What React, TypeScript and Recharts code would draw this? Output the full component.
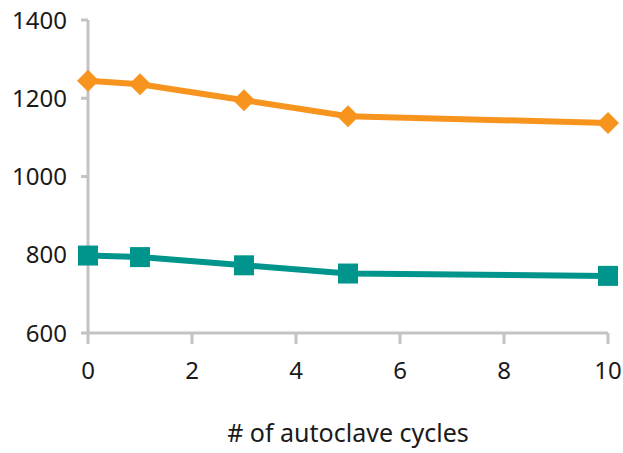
import { LineChart, Line, XAxis, YAxis, Label } from 'recharts'

const cycles = [0, 1, 3, 5, 10]
const orangeValues = [1245, 1236, 1195, 1154, 1137]
const tealValues = [798, 794, 773, 752, 746]
const xTicks = [0, 2, 4, 6, 8, 10]
const yTicks = [600, 800, 1000, 1200, 1400]

const ORANGE = '#F7941E'
const TEAL = '#00958C'
const AXIS = '#C3C3C3'

const data = cycles.map((c, i) => ({ cycles: c, orange: orangeValues[i], teal: tealValues[i] }))

// eslint-disable-next-line @typescript-eslint/no-explicit-any
const Diamond = (props: any) => {
  const { cx, cy } = props
  const r = 11
  return <path d={`M${cx},${cy - r}L${cx + r},${cy}L${cx},${cy + r}L${cx - r},${cy}Z`} fill={ORANGE} />
}

// eslint-disable-next-line @typescript-eslint/no-explicit-any
const Square = (props: any) => {
  const { cx, cy } = props
  const s = 20
  return <rect x={cx - s / 2} y={cy - s / 2} width={s} height={s} fill={TEAL} />
}

export default function App() {
  const font = { fontFamily: 'Noto Sans', fontSize: 24, fill: '#1a1a1a' }
  return (
    <div style={{ position: 'fixed', left: 0, top: 0, background: '#fff' }}>
      <LineChart width={623} height={453} data={data} margin={{ top: 20, right: 15, bottom: 0, left: 0 }}>
        <XAxis
          dataKey="cycles"
          type="number"
          domain={[0, 10]}
          ticks={xTicks}
          stroke={AXIS}
          strokeWidth={3}
          tickSize={11}
          tickMargin={18}
          tick={font}
          height={120}
        >
          <Label value="# of autoclave cycles" position="insideBottom" offset={11} style={{ ...font, fontSize: 25 }} />
        </XAxis>
        <YAxis
          type="number"
          domain={[600, 1400]}
          ticks={yTicks}
          stroke={AXIS}
          strokeWidth={3}
          tickSize={7}
          tickMargin={14}
          tick={font}
          width={88}
          interval={0}
        />
        <Line
          type="linear"
          dataKey="orange"
          stroke={ORANGE}
          strokeWidth={6}
          dot={<Diamond />}
          activeDot={false}
          isAnimationActive={false}
        />
        <Line
          type="linear"
          dataKey="teal"
          stroke={TEAL}
          strokeWidth={6}
          dot={<Square />}
          activeDot={false}
          isAnimationActive={false}
        />
      </LineChart>
    </div>
  )
}
